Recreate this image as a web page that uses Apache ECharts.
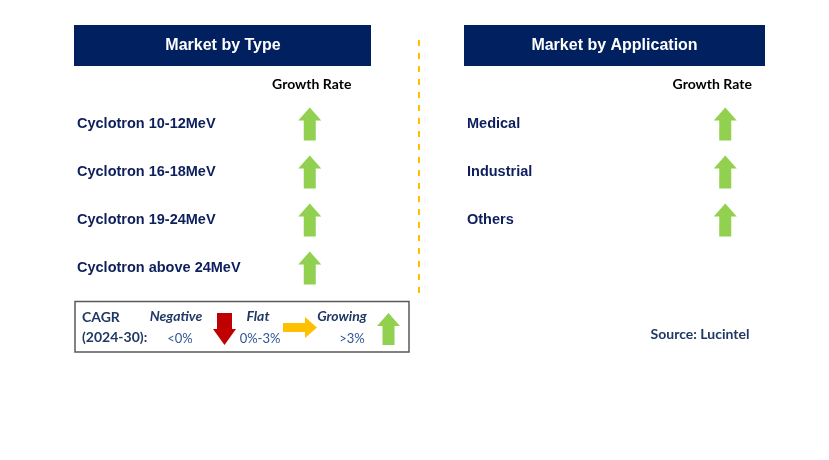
<!DOCTYPE html>
<html>
<head>
<meta charset="utf-8">
<script src="https://cdn.jsdelivr.net/npm/echarts@6/dist/echarts.min.js"></script>
<style>
    html, body { margin: 0; padding: 0; background: #ffffff; }
    #main { width: 829px; height: 460px; }
</style>
</head>
<body>
<div id="main"></div>
<script>
var columnLabels = ['', 'Growth Rate'];
var typeNames = ['Cyclotron 10-12MeV', 'Cyclotron 16-18MeV', 'Cyclotron 19-24MeV', 'Cyclotron above 24MeV'];
var typeGrowth = ['up', 'up', 'up', 'up'];
var appNames = ['Medical', 'Industrial', 'Others'];
var appGrowth = ['up', 'up', 'up'];

var navy = '#002060';
var textNavy = '#0d1f5c';
var legendNavy = '#1f3864';
var green = '#92d050';
var arialFont = "Arial, 'Liberation Sans', sans-serif";
var calibriFont = "Lato, 'Open Sans', sans-serif";

var arrowSymbols = {
    up: 'path://M11.5,0 L23,13 L17.5,13 L17.5,33 L5.5,33 L5.5,13 L0,13 Z',
    down: 'path://M4,0 L19,0 L19,16 L23,16 L11.5,32 L0,16 L4,16 Z'
};
var arrowColors = { up: green, down: '#c00000', flat: '#ffc000' };

function buildData(names, growth) {
    var out = [];
    for (var i = 0; i < names.length; i++) {
        out.push([columnLabels[1], names[i], growth[i]]);
    }
    return out;
}

function panelAxes(idx) {
    return {
        x: {
            type: 'category', gridIndex: idx, position: 'top',
            data: columnLabels,
            axisLine: { show: false }, axisTick: { show: false }, splitLine: { show: false },
            axisLabel: { color: '#000', fontFamily: calibriFont, fontWeight: 'bold', fontSize: 14, margin: 9 }
        },
        y: {
            type: 'category', gridIndex: idx, inverse: true,
            data: idx === 0 ? typeNames : appNames,
            axisLine: { show: false }, axisTick: { show: false }, splitLine: { show: false },
            axisLabel: { inside: true, margin: 0, color: textNavy, fontFamily: arialFont, fontWeight: 'bold', fontSize: 14.5 }
        }
    };
}

function arrowSeries(idx, names, growth, offsetX) {
    return {
        type: 'scatter', xAxisIndex: idx, yAxisIndex: idx,
        data: buildData(names, growth),
        symbol: function (v) { return arrowSymbols[v[2]]; },
        symbolSize: [23, 33],
        symbolOffset: [offsetX, 0],
        itemStyle: { opacity: 1, color: function (p) { return arrowColors[p.value[2]]; } },
        silent: true
    };
}

function poly(pts, color) {
    return { type: 'polygon', shape: { points: pts }, style: { fill: color } };
}

function txt(x, y, s, opts) {
    return {
        type: 'text', x: x, y: y,
        style: {
            text: s, align: opts.align || 'center', verticalAlign: 'middle',
            fill: opts.color || legendNavy, font: opts.font
        }
    };
}

var left = panelAxes(0);
var right = panelAxes(1);

var chart = echarts.init(document.getElementById('main'));
var option = {
    backgroundColor: '#ffffff',
    animation: false,
    grid: [
        { left: 77, top: 100, width: 313, height: 192 },
        { left: 467, top: 100, width: 327, height: 144 }
    ],
    xAxis: [left.x, right.x],
    yAxis: [left.y, right.y],
    series: [
        arrowSeries(0, typeNames, typeGrowth, -2),
        arrowSeries(1, appNames, appGrowth, 13)
    ],
    graphic: [
        { type: 'rect', shape: { x: 74, y: 25, width: 297, height: 41 }, style: { fill: navy } },
        txt(223, 45.5, 'Market by Type', { color: '#fff', font: 'bold 16px ' + arialFont }),
        { type: 'rect', shape: { x: 464, y: 25, width: 301, height: 41 }, style: { fill: navy } },
        txt(614.5, 45.5, 'Market by Application', { color: '#fff', font: 'bold 16px ' + arialFont }),
        { type: 'line', shape: { x1: 419, y1: 40, x2: 419, y2: 297 },
          style: { stroke: '#ffc000', lineWidth: 2, lineDash: [6, 7] } },
        // legend box
        { type: 'rect', shape: { x: 75, y: 301.5, width: 334, height: 50.5 },
          style: { fill: 'none', stroke: '#595959', lineWidth: 1.5 } },
        txt(82, 317, 'CAGR', { align: 'left', font: 'bold 14px ' + calibriFont }),
        txt(82, 337, '(2024-30):', { align: 'left', font: 'bold 14px ' + calibriFont }),
        txt(176, 316, 'Negative', { font: 'italic bold 14px ' + calibriFont }),
        txt(180, 339, '<0%', { color: '#2f5597', font: '13px ' + calibriFont }),
        poly([[217, 313], [232, 313], [232, 329], [236, 329], [224.5, 345], [213, 329], [217, 329]], '#c00000'),
        txt(258, 316, 'Flat', { font: 'italic bold 14px ' + calibriFont }),
        txt(260, 339, '0%-3%', { color: '#2f5597', font: '13px ' + calibriFont }),
        poly([[283, 323], [305, 323], [305, 317], [317, 327.5], [305, 338], [305, 332], [283, 332]], '#ffc000'),
        txt(342, 316, 'Growing', { font: 'italic bold 14px ' + calibriFont }),
        txt(352, 339, '>3%', { color: '#2f5597', font: '13px ' + calibriFont }),
        poly([[388.5, 313], [400, 326], [394.5, 326], [394.5, 345], [382.5, 345], [382.5, 326], [377, 326]], green),
        txt(700, 334, 'Source: Lucintel', { font: 'bold 14px ' + calibriFont })
    ]
};
chart.setOption(option);
</script>
</body>
</html>
